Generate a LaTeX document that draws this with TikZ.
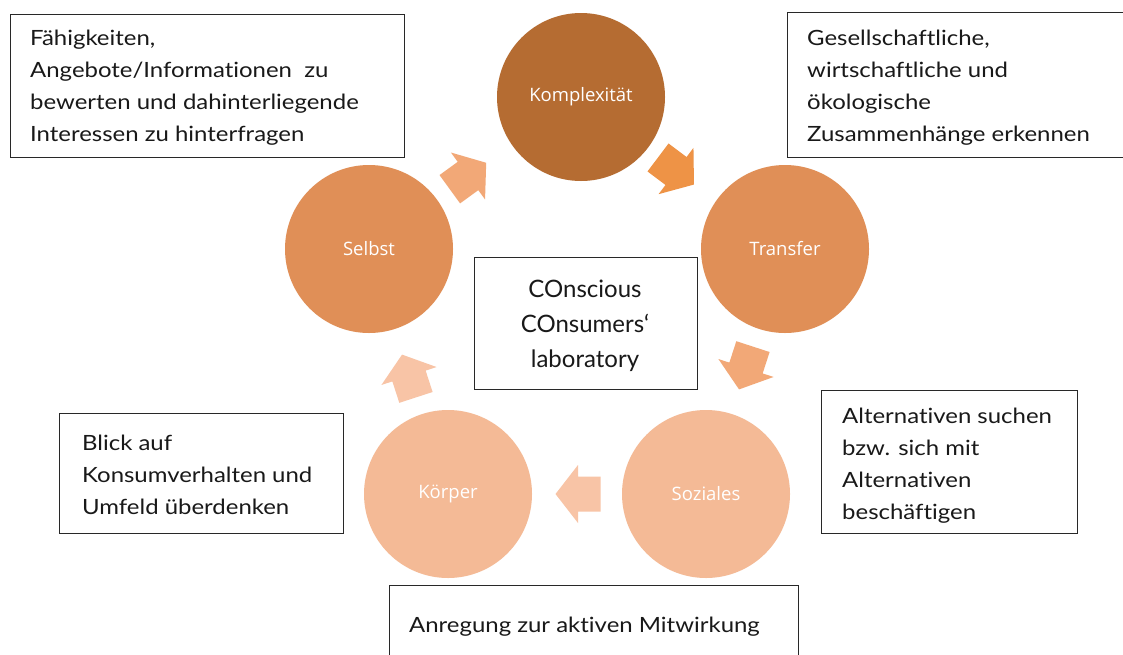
\documentclass[tikz,border=0pt]{standalone}
\usepackage{fontspec}
\setmainfont{Lato}[Ligatures=NoCommon]
\newfontfamily\bodyfont{Lato}[FakeStretch=1.14, Ligatures=NoCommon]
\newfontfamily\circfont{Open Sans}
\usetikzlibrary{calc}
\definecolor{ckomp}{RGB}{181,108,50}
\definecolor{cmid}{RGB}{224,143,87}
\definecolor{clight}{RGB}{244,186,150}
\definecolor{arrA}{RGB}{242,168,119}
\definecolor{arrB}{RGB}{238,147,70}
\definecolor{arrC}{RGB}{248,196,166}
\definecolor{frameC}{RGB}{40,40,40}
\newcommand\blockarrow[3]{%
  \fill[#3, shift={#1}, rotate=#2] (-22.5,-17.5) -- (0,-17.5) -- (0,-29) -- (22.5,0) -- (0,29) -- (0,17.5) -- (-22.5,17.5) -- cycle;}
\begin{document}
\begin{tikzpicture}[x=1pt,y=-1pt,
  circ/.style={circle, minimum size=168pt, inner sep=0pt, text=white, font=\circfont\fontsize{18.5}{22}\selectfont},
  frame/.style={draw=frameC, line width=1.2pt, rectangle, inner sep=0pt, anchor=north west},
  txt/.style={align=left, inner sep=0pt, anchor=west, text=black!90, font=\bodyfont\fontsize{21}{32}\selectfont}]
\clip (0,0) rectangle (1123,654);
\fill[white] (0,0) rectangle (1123,654);

% circles
\node[circ, fill=ckomp] (komp) at (581,97) {Komplexität};
\node[circ, fill=cmid] (transfer) at (785,249) {Transfer};
\node[circ, fill=clight] (soz) at (706,494) {Soziales};
\node[circ, fill=clight] (koerp) at (448,494) {Körper};
\node[circ, fill=cmid] (selbst) at (369,249) {Selbst};

% arrows
\blockarrow{(468,176)}{36}{arrA}
\blockarrow{(676,171)}{-37}{arrB}
\blockarrow{(746,368)}{-108}{arrA}
\blockarrow{(578,494)}{180}{arrC}
\blockarrow{(409,376)}{108}{arrC}

% boxes
\node[frame, minimum width=394pt, minimum height=143pt] (b1) at (10,14) {};
\node[txt] (t1) at (30,88) {Fähigkeiten,\\Angebote/Informationen\ \ zu\\bewerten und dahinterliegende\\Interessen zu hinterfragen};

\node[frame, minimum width=345pt, minimum height=145pt] (b2) at (787,12) {};
\node[txt] (t2) at (807,88) {Gesellschaftliche,\\wirtschaftliche und\\ökologische\\Zusammenhänge erkennen};

\node[frame, minimum width=223pt, minimum height=132pt] (b3) at (474,257) {};
\node[txt, align=center, anchor=center, font=\rmfamily\fontsize{24}{35}\selectfont] (t3) at (585,326) {COnscious\\COnsumers‘\\laboratory};

\node[frame, minimum width=256pt, minimum height=143pt] (b4) at (821,390) {};
\node[txt] (t4) at (842,466) {Alternativen suchen\\bzw. sich mit\\Alternativen\\beschäftigen};

\node[frame, minimum width=284pt, minimum height=120pt] (b5) at (59,413) {};
\node[txt] (t5) at (82,475) {Blick auf\\Konsumverhalten und\\Umfeld überdenken};

\node[frame, minimum width=409pt, minimum height=90pt] (b6) at (389,585) {};
\node[txt] (t6) at (409,627) {Anregung zur aktiven Mitwirkung};
\end{tikzpicture}
\end{document}
